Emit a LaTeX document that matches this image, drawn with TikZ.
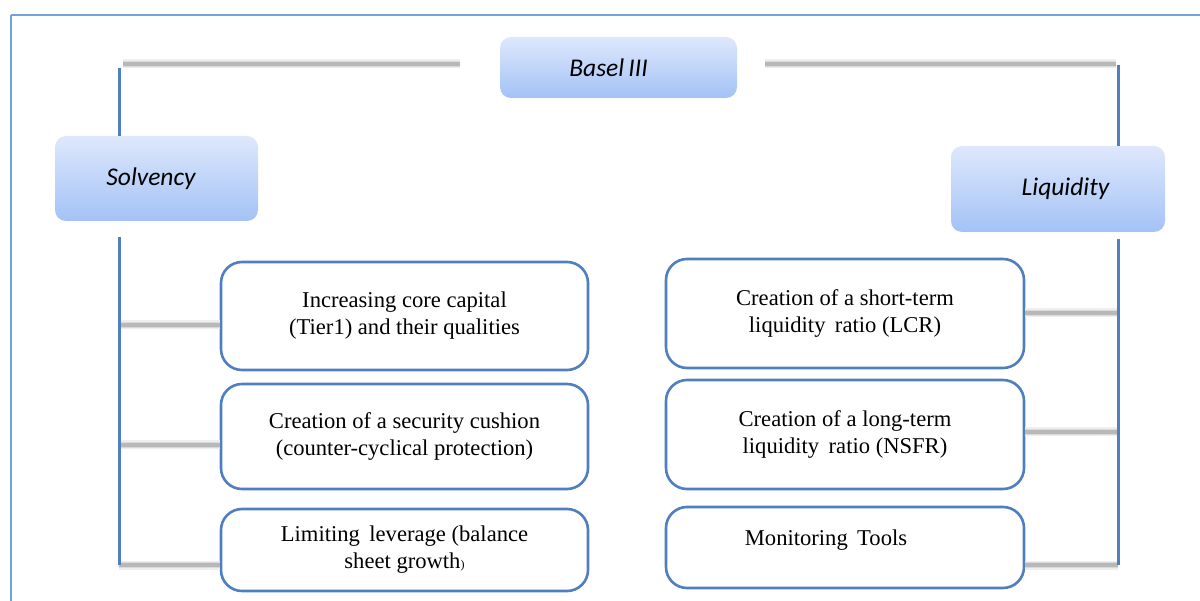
\documentclass[tikz,border=0pt]{standalone}
\usepackage{fontspec}
\setmainfont{Liberation Serif}
\newfontfamily\calib{Carlito}
\usetikzlibrary{positioning,calc}
\definecolor{framec}{HTML}{6FA3DB}
\definecolor{spine}{HTML}{4F7FBE}
\definecolor{boxline}{HTML}{4F7FC0}
\definecolor{gradtop}{HTML}{DEE8FC}
\definecolor{gradbot}{HTML}{A3C2F6}
\definecolor{grayline}{HTML}{B8B8B8}
\definecolor{grayhalo}{HTML}{DADADA}
\definecolor{grayfaint}{HTML}{EEEEEE}
\tikzset{
  headbox/.style={rounded corners=11pt, top color=gradtop, bottom color=gradbot,
    draw=none, font=\calib\itshape\fontsize{25.5}{29}\selectfont, text=black, inner sep=0pt},
  itembox/.style={rounded corners=21pt, draw=boxline, line width=2.6pt, fill=white,
    align=center, font=\fontsize{22.6}{27}\selectfont, inner sep=0pt},
  spineline/.style={draw=spine, line width=3pt},
  grayconn/.style={draw=grayline, line width=3.5pt},
  grayglow/.style={draw=grayhalo, line width=6pt},
  grayfade/.style={draw=grayfaint, line width=9pt},
}
\begin{document}
\begin{tikzpicture}[x=1pt,y=-1pt]
\useasboundingbox (0,0) rectangle (1200,601);
\fill[white] (0,0) rectangle (1200,601);
\draw[framec, line width=2pt] (11,15) -- (11,620) (11,15) -- (1220,15);

% coordinates
\coordinate (tl) at (123,64);
\coordinate (tlend) at (460,64);
\coordinate (tr) at (765,64);
\coordinate (trend) at (1116,64);
\coordinate (ls1) at (119,68);
\coordinate (ls2) at (119,237);
\coordinate (lsb) at (119,565);
\coordinate (rs1) at (1118,65);
\coordinate (rs2) at (1118,239);
\coordinate (rsb) at (1118,565);
\coordinate (lc1) at (119,325);
\coordinate (lc2) at (119,445);
\coordinate (rc1) at (1118,313);
\coordinate (rc2) at (1118,432);

% boxes
\node[headbox, minimum width=237pt, minimum height=61pt] (basel) at (618.5,67.5) {\hspace*{-20pt}Basel\,III};
\node[headbox, minimum width=203pt, minimum height=85pt] (solv) at (156.5,178.5) {\hspace*{-11pt}Solvency};
\node[headbox, minimum width=214pt, minimum height=86pt] (liq) at (1058,189) {\hspace*{15pt}Liquidity};

\node[itembox, minimum width=367pt, minimum height=108pt] (a1) at (404.5,316) {Increasing core capital\\(Tier1) and their qualities};
\node[itembox, minimum width=367pt, minimum height=105pt] (a2) at (404.5,436.5) {Creation of a security cushion\\(counter-cyclical protection)};
\node[itembox, minimum width=367pt, minimum height=82pt] (a3) at (404.5,550) {Limiting\, leverage (balance\\sheet growth{\fontsize{12}{12}\selectfont)}};

\node[itembox, minimum width=358pt, minimum height=109pt] (b1) at (845,313.5) {Creation of a short-term\\liquidity\, ratio (LCR)};
\node[itembox, minimum width=358pt, minimum height=109pt] (b2) at (845,434.5) {Creation of a long-term\\liquidity\, ratio (NSFR)};
\node[itembox, minimum width=358pt, minimum height=81pt] (b3) at (845,547.5) {\raisebox{19pt}{Monitoring\, Tools}\hspace*{38pt}};

% connectors
\foreach \st in {grayfade,grayglow,grayconn}{
  \path[\st] (tl) -- (tlend) (tr) -- (trend);
  \path[\st] (lc1) -- (lc1 -| a1.west) (lc2) -- (lc2 -| a2.west) (lsb) -- (lsb -| a3.west);
  \path[\st] (rc1) -- (rc1 -| b1.east) (rc2) -- (rc2 -| b2.east) (rsb) -- (rsb -| b3.east);
}
\path[spineline] (ls1) -- (ls1 |- solv.north) (ls2) -- (lsb);
\path[spineline] (rs1) -- (rs1 |- liq.north) (rs2) -- (rsb);
\end{tikzpicture}
\end{document}
